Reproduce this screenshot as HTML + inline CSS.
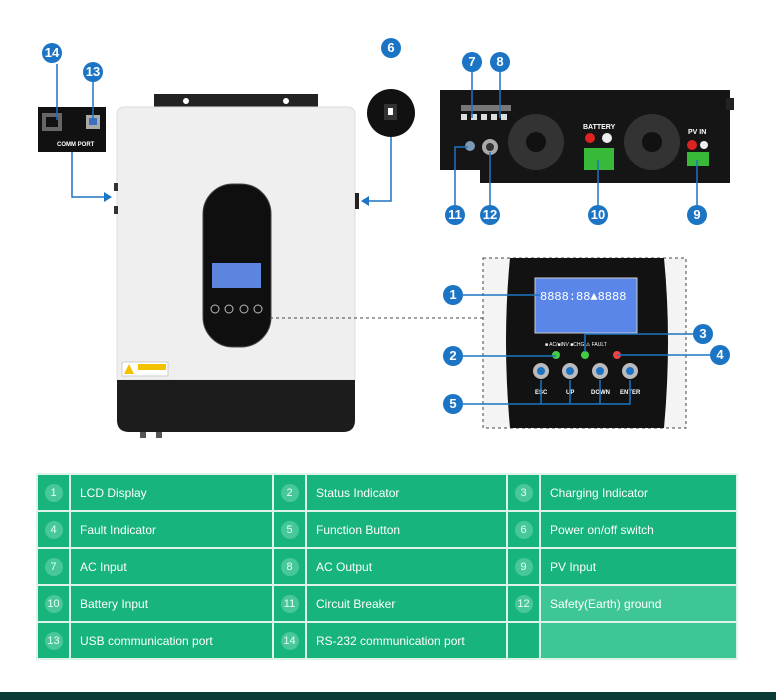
<!DOCTYPE html>
<html><head><style>
body{margin:0;width:776px;height:700px;background:#fff;position:relative;overflow:hidden;font-family:"Liberation Sans",sans-serif}
.a{position:absolute}
.b{position:absolute;width:20px;height:20px;border-radius:50%;background:#1b74c4;color:#fff;font:bold 13px "Liberation Sans",sans-serif;text-align:center;line-height:20px;margin:-10px 0 0 -10px}
table{position:absolute;left:36px;top:473px;border-collapse:collapse}
td{background:#17b47c;color:#fff;font-size:12px;height:35px;border:2px solid #dff3ea;padding:0}
td.n{width:31px;text-align:center}
td.n span{display:inline-block;width:18px;height:18px;border-radius:50%;background:#48c899;line-height:18px;font-size:11px;color:#e6fff4}
td.t{padding-left:9px}
</style></head><body>
<svg class="a" style="left:0;top:0" width="776" height="460">
<rect x="154" y="94" width="164" height="16" fill="#222"/>
<circle cx="186" cy="101" r="3" fill="#fff"/><circle cx="286" cy="101" r="3" fill="#fff"/>
<path d="M125 107 H347 Q355 107 355 115 V380 H117 V115 Q117 107 125 107Z" fill="#efefef" stroke="#ddd"/>
<path d="M117 380 H355 V420 Q355 432 343 432 H129 Q117 432 117 420Z" fill="#1c1c1c"/>
<rect x="140" y="432" width="6" height="6" fill="#555"/><rect x="156" y="432" width="6" height="6" fill="#555"/>
<rect x="114" y="183" width="4" height="8" fill="#333"/><rect x="114" y="206" width="4" height="8" fill="#333"/>
<rect x="355" y="193" width="4" height="16" fill="#222"/>
<rect x="203" y="184" width="68" height="163" rx="30" fill="#0f0f0f" stroke="#444"/>
<rect x="212" y="263" width="49" height="25" fill="#5c85e0"/>
<g fill="none" stroke="#bbb"><circle cx="215" cy="309" r="4"/><circle cx="229" cy="309" r="4"/><circle cx="244" cy="309" r="4"/><circle cx="258" cy="309" r="4"/></g>
<rect x="122" y="362" width="46" height="14" fill="#fff" stroke="#ccc"/><rect x="138" y="364" width="28" height="6" fill="#f2c200"/><path d="M124 374 L129 364 L134 374Z" fill="#f2c200"/>
<rect x="38" y="107" width="68" height="45" fill="#111"/>
<rect x="42" y="113" width="20" height="18" fill="#666"/><rect x="46" y="117" width="12" height="10" fill="#111"/>
<rect x="86" y="115" width="14" height="14" fill="#aaa"/><rect x="89" y="118" width="8" height="7" fill="#3d6fc0"/>
<text x="57" y="146" font-size="6" fill="#fff" font-weight="bold">COMM PORT</text>
<g fill="none" stroke="#1b74c4" stroke-width="1.5"><path d="M72 152 V197 H108"/><path d="M391 137 V201 H366"/><path d="M57 64 V120"/><path d="M93 82 V120"/></g>
<path d="M112 197 L104 192 V202Z" fill="#1b74c4"/><path d="M361 201 L369 196 V206Z" fill="#1b74c4"/>
<circle cx="391" cy="113" r="24" fill="#111"/><rect x="384" y="104" width="13" height="16" fill="#333"/><rect x="388" y="108" width="5" height="7" fill="#fff"/>
<path d="M440 90 H730 V183 H480 V170 H440Z" fill="#151515"/>
<rect x="726" y="98" width="8" height="12" fill="#222"/>
<g fill="#ddd"><rect x="461" y="114" width="6" height="6"/><rect x="471" y="114" width="6" height="6"/><rect x="481" y="114" width="6" height="6"/><rect x="491" y="114" width="6" height="6"/><rect x="501" y="114" width="6" height="6"/></g>
<rect x="461" y="105" width="50" height="6" fill="#777"/>
<circle cx="470" cy="146" r="5" fill="#7a9ab5"/><circle cx="490" cy="147" r="8" fill="#aaa"/><circle cx="490" cy="147" r="4" fill="#333"/>
<g fill="#333"><circle cx="536" cy="142" r="28"/><circle cx="652" cy="142" r="28"/></g>
<g fill="#111"><circle cx="536" cy="142" r="10"/><circle cx="652" cy="142" r="10"/></g>
<text x="583" y="129" font-size="7" fill="#fff" font-weight="bold">BATTERY</text>
<circle cx="590" cy="138" r="5" fill="#d22"/><circle cx="607" cy="138" r="5" fill="#eee"/>
<rect x="584" y="148" width="30" height="22" fill="#38b93a"/>
<text x="688" y="134" font-size="7" fill="#fff" font-weight="bold">PV  IN</text>
<circle cx="692" cy="145" r="5" fill="#d22"/><circle cx="704" cy="145" r="4" fill="#eee"/>
<rect x="687" y="152" width="22" height="14" fill="#38b93a"/>
<g stroke="#1b74c4" stroke-width="1.5" fill="none"><path d="M472 72 V118"/><path d="M500 72 V118"/><path d="M455 205 V147 H468"/><path d="M490 205 V152"/><path d="M598 205 V160"/><path d="M697 205 V160"/></g>
<path d="M270 318 H483" stroke="#444" stroke-dasharray="3 3"/>
<rect x="483" y="258" width="203" height="170" fill="#f4f4f4" stroke="#444" stroke-dasharray="3 3"/>
<path d="M510 258 H664 Q672 340 664 428 H510 Q502 340 510 258Z" fill="#121212"/>
<rect x="535" y="278" width="102" height="55" fill="#5a86ea" stroke="#ccc"/>
<text x="540" y="300" font-size="12" fill="#fff" font-family="Liberation Mono">8888:88▲8888</text>
<circle cx="556" cy="355" r="4" fill="#4c4"/><circle cx="585" cy="355" r="4" fill="#4c4"/><circle cx="617" cy="355" r="4" fill="#e44"/>
<text x="545" y="346" font-size="5" fill="#fff">■ AC/■INV    ■CHG      ⚠ FAULT</text>
<g fill="#bbb"><circle cx="541" cy="371" r="8"/><circle cx="570" cy="371" r="8"/><circle cx="600" cy="371" r="8"/><circle cx="630" cy="371" r="8"/></g>
<g fill="#1b74c4"><circle cx="541" cy="371" r="4"/><circle cx="570" cy="371" r="4"/><circle cx="600" cy="371" r="4"/><circle cx="630" cy="371" r="4"/></g>
<text font-size="6" fill="#fff" font-weight="bold"><tspan x="535" y="394">ESC</tspan><tspan x="566" y="394">UP</tspan><tspan x="591" y="394">DOWN</tspan><tspan x="620" y="394">ENTER</tspan></text>
<g stroke="#1b74c4" stroke-width="1.5" fill="none"><path d="M463 295 H540"/><path d="M463 356 H556"/><path d="M693 334 H585 V352"/><path d="M710 355 H617"/><path d="M463 404 H630 V380 M541 404 V380 M570 404 V380 M600 404 V380"/></g>
</svg>
<div class="b" style="left:52px;top:53px">14</div><div class="b" style="left:93px;top:72px">13</div>
<div class="b" style="left:391px;top:48px">6</div>
<div class="b" style="left:472px;top:62px">7</div><div class="b" style="left:500px;top:62px">8</div>
<div class="b" style="left:455px;top:215px">11</div><div class="b" style="left:490px;top:215px">12</div>
<div class="b" style="left:598px;top:215px">10</div><div class="b" style="left:697px;top:215px">9</div>
<div class="b" style="left:453px;top:295px">1</div><div class="b" style="left:453px;top:356px">2</div>
<div class="b" style="left:703px;top:334px">3</div><div class="b" style="left:720px;top:355px">4</div>
<div class="b" style="left:453px;top:404px">5</div>
<table>
<tr><td class="n"><span>1</span></td><td class="t" style="width:192px">LCD Display</td><td class="n"><span>2</span></td><td class="t" style="width:190px">Status Indicator</td><td class="n"><span>3</span></td><td class="t" style="width:186px">Charging Indicator</td></tr>
<tr><td class="n"><span>4</span></td><td class="t">Fault Indicator</td><td class="n"><span>5</span></td><td class="t">Function Button</td><td class="n"><span>6</span></td><td class="t">Power on/off switch</td></tr>
<tr><td class="n"><span>7</span></td><td class="t">AC Input</td><td class="n"><span>8</span></td><td class="t">AC Output</td><td class="n"><span>9</span></td><td class="t">PV Input</td></tr>
<tr><td class="n"><span>10</span></td><td class="t">Battery Input</td><td class="n"><span>11</span></td><td class="t">Circuit Breaker</td><td class="n"><span>12</span></td><td class="t" style="background:#3ec794">Safety(Earth) ground</td></tr>
<tr><td class="n"><span>13</span></td><td class="t">USB communication port</td><td class="n"><span>14</span></td><td class="t">RS-232 communication port</td><td class="n"></td><td class="t" style="background:#3ec794"></td></tr>
</table>
<div class="a" style="left:0;top:692px;width:776px;height:8px;background:#0b3b36"></div>
</body></html>
